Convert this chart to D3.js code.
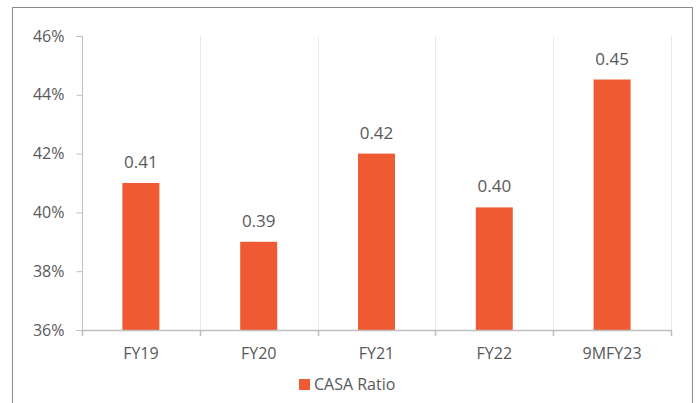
<!DOCTYPE html>
<html>
<head>
<meta charset="utf-8">
<script src="https://cdn.jsdelivr.net/npm/d3@7/dist/d3.min.js"></script>
<style>
  html, body { margin: 0; padding: 0; background: #fff; }
  svg { display: block; font-family: "Open Sans", "Liberation Sans", sans-serif; }
</style>
</head>
<body>
<svg id="chart" width="696" height="403"></svg>
<script>
// CASA ratio by fiscal period
const categories = ["FY19", "FY20", "FY21", "FY22", "9MFY23"];
const casaRatio = [0.41, 0.39, 0.42, 0.4017, 0.4452];
const yTicks = [0.36, 0.38, 0.40, 0.42, 0.44, 0.46];
const seriesName = "CASA Ratio";

const svg = d3.select("#chart");
const W = 696, H = 403;
const plot = { left: 82, right: 671, top: 36, bottom: 330 };

const barColor = "#F05A33";
const textColor = "#595959";
const axisColor = "#BFBFBF";
const gridColor = "#E9E9E9";

// outer chart frame
svg.append("rect")
  .attr("x", 12.5).attr("y", 7.5)
  .attr("width", 680).attr("height", 420)
  .attr("fill", "none").attr("stroke", "#8A8A8A").attr("stroke-width", 1);

const x = d3.scaleBand().domain(categories).range([plot.left, plot.right]).paddingInner(0).paddingOuter(0);
const y = d3.scaleLinear().domain([0.36, 0.46]).range([plot.bottom, plot.top]);

// vertical gridlines at category boundaries
const bounds = categories.map(c => x(c)).concat([x.range()[1]]);
svg.append("g").selectAll("line")
  .data(bounds.slice(1))
  .join("line")
  .attr("x1", d => Math.round(d) + 0.5).attr("x2", d => Math.round(d) + 0.5)
  .attr("y1", plot.top).attr("y2", plot.bottom)
  .attr("stroke", gridColor).attr("stroke-width", 1);

// bars
const barW = 37;
svg.append("g").selectAll("rect")
  .data(categories.map((c, i) => ({ c, v: casaRatio[i] })))
  .join("rect")
  .attr("x", d => x(d.c) + x.bandwidth() / 2 - barW / 2)
  .attr("width", barW)
  .attr("y", d => y(d.v))
  .attr("height", d => y(0.36) - y(d.v))
  .attr("fill", barColor);

// value labels
svg.append("g").selectAll("text")
  .data(categories.map((c, i) => ({ c, v: casaRatio[i] })))
  .join("text")
  .attr("x", d => x(d.c) + x.bandwidth() / 2)
  .attr("y", d => y(d.v) - 15)
  .attr("text-anchor", "middle")
  .attr("fill", textColor)
  .attr("font-size", 17)
  .text(d => d3.format(".2f")(d.v));

// y axis
const yAxis = d3.axisLeft(y).tickValues(yTicks).tickFormat(d3.format(".0%")).tickSize(6).tickPadding(12);
const gy = svg.append("g").attr("transform", `translate(${plot.left + 0.5},0)`).call(yAxis);
gy.select(".domain").attr("stroke", axisColor).attr("d", `M-6,${plot.top}.5H0V${plot.bottom}.5H-6`);
gy.selectAll(".tick line").attr("stroke", axisColor);
gy.selectAll(".tick text").attr("fill", textColor).attr("font-size", 16)
  .attr("font-family", "Open Sans, Liberation Sans, sans-serif");

// x axis line and boundary ticks
svg.append("line")
  .attr("x1", plot.left).attr("x2", plot.right + 1)
  .attr("y1", plot.bottom + 0.5).attr("y2", plot.bottom + 0.5)
  .attr("stroke", axisColor).attr("stroke-width", 1.5);
svg.append("g").selectAll("line")
  .data(bounds)
  .join("line")
  .attr("x1", d => Math.round(d) + 0.5).attr("x2", d => Math.round(d) + 0.5)
  .attr("y1", plot.bottom).attr("y2", plot.bottom + 6)
  .attr("stroke", axisColor).attr("stroke-width", 1.5);

// category labels
svg.append("g").selectAll("text")
  .data(categories)
  .join("text")
  .attr("x", d => x(d) + x.bandwidth() / 2)
  .attr("y", 359)
  .attr("text-anchor", "middle")
  .attr("fill", textColor)
  .attr("font-size", 16)
  .text(d => d);

// legend
const lg = svg.append("g").attr("transform", "translate(299,379)");
lg.append("rect").attr("width", 11).attr("height", 11).attr("fill", barColor);
lg.append("text").attr("x", 15).attr("y", 11)
  .attr("fill", textColor).attr("font-size", 16).text(seriesName);
</script>
</body>
</html>
